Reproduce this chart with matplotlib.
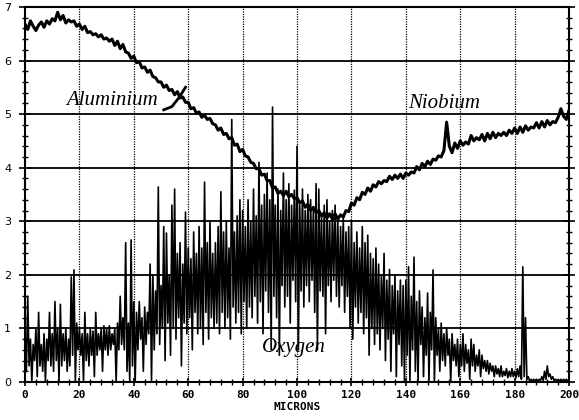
import numpy as np
import matplotlib.pyplot as plt
from matplotlib.ticker import MultipleLocator

# depth in microns, one reading per micron
microns = np.arange(0, 201)

# aluminium falling into niobium: one trace
al_nb = [6.68, 6.58, 6.74, 6.64, 6.56, 6.66, 6.72, 6.62, 6.74, 6.68,
         6.78, 6.74, 6.9, 6.76, 6.84, 6.7, 6.76, 6.72, 6.74, 6.64,
         6.68, 6.58, 6.64, 6.52, 6.54, 6.48, 6.5, 6.44, 6.48, 6.4,
         6.42, 6.36, 6.4, 6.28, 6.36, 6.22, 6.3, 6.16, 6.14, 6.04,
         6.08, 5.96, 5.98, 5.86, 5.88, 5.78, 5.82, 5.7, 5.68, 5.6,
         5.6, 5.5, 5.54, 5.44, 5.46, 5.36, 5.42, 5.3, 5.32, 5.22,
         5.22, 5.1, 5.12, 5.02, 5.04, 4.94, 4.98, 4.9, 4.92, 4.82,
         4.8, 4.7, 4.74, 4.62, 4.64, 4.54, 4.56, 4.42, 4.44, 4.3,
         4.34, 4.22, 4.2, 4.1, 4.08, 3.98, 3.98, 3.86, 3.88, 3.76,
         3.76, 3.62, 3.64, 3.52, 3.56, 3.48, 3.56, 3.46, 3.5, 3.42,
         3.44, 3.34, 3.38, 3.26, 3.32, 3.2, 3.26, 3.16, 3.2, 3.1,
         3.16, 3.06, 3.14, 3.04, 3.14, 3.04, 3.12, 3.08, 3.2, 3.18,
         3.34, 3.3, 3.44, 3.4, 3.54, 3.5, 3.62, 3.56, 3.68, 3.64,
         3.74, 3.7, 3.76, 3.74, 3.84, 3.78, 3.86, 3.8, 3.88, 3.8,
         3.9, 3.86, 3.92, 3.9, 4.02, 3.96, 4.08, 4.02, 4.12, 4.06,
         4.16, 4.14, 4.22, 4.2, 4.32, 4.85, 4.4, 4.28, 4.46, 4.36,
         4.5, 4.42, 4.48, 4.44, 4.6, 4.5, 4.56, 4.52, 4.62, 4.5,
         4.64, 4.54, 4.66, 4.56, 4.64, 4.6, 4.66, 4.6, 4.7, 4.64,
         4.74, 4.64, 4.76, 4.66, 4.78, 4.7, 4.76, 4.74, 4.84, 4.74,
         4.86, 4.76, 4.88, 4.8, 4.86, 4.84, 4.94, 5.1, 4.96, 4.9,
         5.07]

# oxygen: peak and trough read for each micron
oxy_peak = [0.9, 1.6, 0.8, 0.7, 1.0, 1.3, 0.7, 0.9, 0.8, 1.3,
            0.9, 1.5, 1.0, 1.45, 0.9, 1.0, 0.8, 1.96, 2.09, 1.1,
            1.0, 0.9, 1.3, 0.9, 1.0, 0.95, 1.3, 0.9, 1.0, 1.05,
            1.0, 1.05, 0.9, 1.0, 1.1, 1.6, 1.2, 2.6, 1.1, 2.65,
            1.5, 1.3, 1.5, 1.2, 1.4, 1.3, 2.2, 2.0, 1.7, 3.64,
            1.8, 2.9, 2.78, 2.0, 3.3, 3.6, 2.4, 2.6, 2.2, 3.17,
            2.5, 2.3, 2.8, 2.4, 2.9, 2.5, 3.73, 2.6, 3.0, 2.4,
            2.6, 2.9, 3.55, 2.8, 3.0, 2.5, 4.9, 2.8, 3.1, 3.4,
            3.2, 2.9, 3.4, 3.0, 3.6, 3.1, 4.1, 3.3, 3.5, 3.9,
            3.4, 5.13, 3.3, 3.6, 3.2, 3.9, 3.4, 3.7, 3.3, 3.58,
            4.4, 3.3, 3.6, 3.2, 3.5, 3.4, 3.2, 3.7, 3.6, 3.1,
            3.3, 3.4, 3.0, 3.2, 3.3, 3.0, 2.9, 3.1, 2.8, 2.9,
            3.0, 2.6, 2.8, 2.5, 2.9, 2.6, 2.74, 2.4, 2.3, 2.5,
            2.2, 2.0, 2.4, 1.9, 2.1, 1.8, 2.0, 1.7, 1.9, 1.8,
            1.9, 2.15, 1.6, 2.33, 1.5, 1.7, 1.4, 1.2, 1.66, 1.3,
            2.09, 1.2, 1.0, 1.1, 0.9, 1.0, 0.8, 0.9, 0.7, 0.8,
            0.7, 0.9, 0.7, 0.6, 0.8, 0.7, 0.5, 0.6, 0.5, 0.4,
            0.4, 0.35, 0.3, 0.3, 0.25, 0.3, 0.2, 0.25, 0.2, 0.25,
            0.2, 0.25, 0.3, 2.15, 1.2, 0.1, 0.05, 0.05, 0.05, 0.05,
            0.1, 0.2, 0.3, 0.15, 0.1, 0.05, 0.05, 0.05, 0.05, 0.05,
            0.05]
oxy_trough = [0.2, 0.3, 0.0, 0.4, 0.1, 0.3, 0.2, 0.0, 0.4, 0.3,
              0.2, 0.4, 0.0, 0.3, 0.4, 0.2, 0.3, 0.5, 0.0, 0.6,
              0.5, 0.0, 0.4, 0.3, 0.5, 0.1, 0.5, 0.6, 0.2, 0.6,
              0.5, 0.6, 0.7, 0.0, 0.6, 0.7, 0.6, 0.2, 0.0, 0.3,
              0.0, 0.6, 0.8, 0.2, 0.7, 0.9, 0.0, 0.6, 0.9, 0.7,
              1.0, 0.4, 1.1, 0.5, 1.0, 0.8, 1.2, 0.3, 1.1, 0.9,
              1.2, 0.6, 1.3, 0.9, 1.0, 0.7, 1.3, 0.8, 1.2, 1.0,
              1.1, 0.9, 1.3, 1.0, 1.2, 0.8, 1.4, 1.1, 1.3, 0.9,
              1.5, 1.0, 1.4, 1.2, 1.6, 1.1, 1.5, 0.9, 1.7, 1.3,
              0.6, 1.6, 1.2, 0.5, 1.8, 1.4, 1.6, 1.1, 1.9, 1.5,
              0.6, 1.7, 1.4, 1.8, 1.5, 1.9, 1.3, 0.6, 1.7, 1.6,
              0.9, 1.8, 1.5, 1.9, 1.6, 1.4, 1.8, 1.3, 1.6, 1.0,
              0.8, 1.4, 1.1, 1.3, 0.9, 1.2, 0.5, 1.0, 0.7, 0.9,
              0.6, 1.0, 0.4, 0.8, 0.2, 0.9, 0.1, 0.7, 0.3, 0.0,
              0.5, 0.0, 0.6, 0.2, 0.0, 0.7, 0.1, 0.5, 0.0, 0.6,
              0.0, 0.5, 0.2, 0.4, 0.3, 0.5, 0.0, 0.4, 0.3, 0.1,
              0.3, 0.2, 0.35, 0.05, 0.3, 0.2, 0.3, 0.1, 0.25, 0.2,
              0.15, 0.2, 0.1, 0.15, 0.1, 0.1, 0.12, 0.08, 0.1, 0.1,
              0.08, 0.1, 0.05, 0.1, 0.05, 0.02, 0.02, 0.02, 0.02, 0.03,
              0.03, 0.05, 0.1, 0.05, 0.03, 0.02, 0.02, 0.02, 0.02, 0.02,
              0.02]

x_ticks = [0, 20, 40, 60, 80, 100, 120, 140, 160, 180, 200]
y_ticks = [0, 1, 2, 3, 4, 5, 6, 7]

fig = plt.figure(figsize=(5.79, 4.2), dpi=100)
ax = fig.add_axes([0.0432, 0.0905, 0.9396, 0.893])

# grid: solid horizontal, dotted vertical
for v in y_ticks[1:-1]:
    ax.axhline(v, color='black', lw=1.3, zorder=1)
for m in x_ticks[1:-1]:
    ax.axvline(m, color='black', lw=0.9, ls=(0, (1, 1)), zorder=1)

# oxygen as peak/trough zigzag
ox_x = np.ravel(np.column_stack([microns, microns + 0.5]))
ox_y = np.ravel(np.column_stack([oxy_peak, oxy_trough]))
ax.plot(ox_x, ox_y, color='black', lw=1.2, zorder=2)

ax.plot(microns, al_nb, color='black', lw=2.2, zorder=3)

ax.set_xlim(0, 200)
ax.set_ylim(0, 7)
ax.set_xticks(x_ticks)
ax.set_yticks(y_ticks)
ax.xaxis.set_minor_locator(MultipleLocator(4))
ax.yaxis.set_minor_locator(MultipleLocator(0.2))
ax.tick_params(axis='both', which='both', direction='inout', color='black')
ax.tick_params(axis='y', which='both', right=True, labelright=False)
ax.tick_params(axis='y', which='major', length=8, width=1.2, labelsize=8, pad=6)
ax.tick_params(axis='y', which='minor', length=5, width=1.0)
ax.tick_params(axis='x', which='major', length=6, width=1.2, pad=3)
ax.tick_params(axis='x', which='minor', length=5, width=1.0)
ax.set_xticklabels([str(t) for t in x_ticks], family='DejaVu Sans Mono',
                   fontweight='bold', fontsize=8)
ax.set_yticklabels([str(t) for t in y_ticks], family='DejaVu Sans', fontsize=8)
for s in ax.spines.values():
    s.set_linewidth(1.5)

ax.set_xlabel('MICRONS', family='DejaVu Sans Mono', fontweight='bold',
              fontsize=8, labelpad=1)

serif = dict(family='Liberation Serif', style='italic', fontsize=15)
ax.text(15, 5.26, 'Aluminium', ha='left', va='center', **serif)
ax.text(154, 5.2, 'Niobium', ha='center', va='center', **serif)
ax.text(99, 0.65, 'Oxygen', ha='center', va='center', **serif)
ax.plot([51, 54, 56.5, 59], [5.08, 5.14, 5.3, 5.5], color='black', lw=2.0, zorder=3)

fig.savefig('out.png', dpi=100)
